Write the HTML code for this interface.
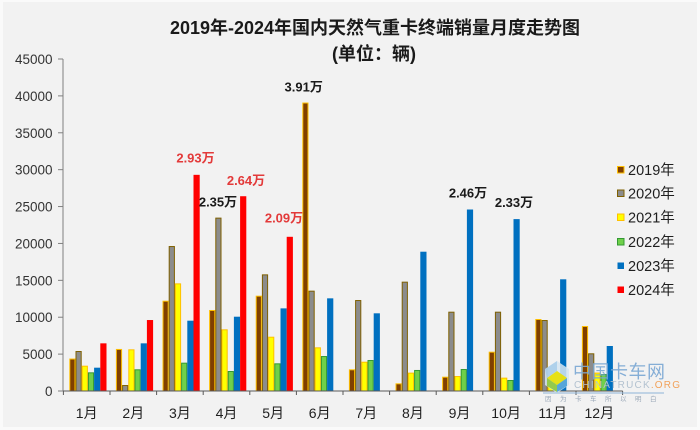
<!DOCTYPE html>
<html><head><meta charset="utf-8">
<style>
html,body{margin:0;padding:0;background:#f2f2f2;}
svg{display:block;}
text{font-family:"Liberation Sans","Noto Sans CJK SC",sans-serif;}
</style></head>
<body>
<svg width="700" height="430" viewBox="0 0 700 430" xmlns="http://www.w3.org/2000/svg">
<rect x="0" y="0" width="700" height="430" fill="#fafafa"/>
<rect x="3" y="2" width="694" height="425" fill="#f2f2f2"/>
<text x="375" y="34" text-anchor="middle" font-size="18" font-weight="bold" fill="#1a1a1a">2019年-2024年国内天然气重卡终端销量月度走势图</text>
<text x="374" y="60" text-anchor="middle" font-size="18" font-weight="bold" fill="#1a1a1a">(单位：辆)</text>
<g id="yaxis" font-size="13.5" fill="#333333" text-anchor="end">
<line x1="63" y1="59" x2="63" y2="391" stroke="#808080" stroke-width="1"/>
</g>
<g id="bars"></g>
<g id="labels" font-size="13" font-weight="bold" text-anchor="middle">
<text x="195.5" y="162.5" fill="#e33a3a">2.93万</text>
<text x="246" y="185" fill="#e33a3a">2.64万</text>
<text x="218" y="206.5" fill="#1a1a1a">2.35万</text>
<text x="284" y="222.5" fill="#e33a3a">2.09万</text>
<text x="303.7" y="91.5" fill="#1a1a1a">3.91万</text>
<text x="468" y="197.5" fill="#1a1a1a">2.46万</text>
<text x="514" y="207" fill="#1a1a1a">2.33万</text>
</g>
<g id="legend" font-size="14.5" fill="#1f1f1f">
<rect x="617.5" y="166.5" width="6.5" height="6.5" fill="#7f3f00" stroke="#ffc000" stroke-width="1"/><text x="628" y="175">2019年</text>
<rect x="617.5" y="190" width="6.5" height="6.5" fill="#8c8c8c" stroke="#7f6000" stroke-width="1"/><text x="628" y="198.5">2020年</text>
<rect x="617.5" y="214" width="6.5" height="6.5" fill="#ffff00" stroke="#ffc000" stroke-width="1"/><text x="628" y="222.5">2021年</text>
<rect x="617.5" y="238.5" width="6.5" height="6.5" fill="#6fd04a" stroke="#339933" stroke-width="1"/><text x="628" y="247">2022年</text>
<rect x="617.5" y="262.5" width="6.5" height="6.5" fill="#0070c0"/><text x="628" y="271">2023年</text>
<rect x="617.5" y="286.5" width="6.5" height="6.5" fill="#ff0000"/><text x="628" y="295">2024年</text>
</g>
<g id="xaxis" font-size="14" fill="#1f1f1f" text-anchor="middle"></g>
<g id="wm">
<polygon points="545,369 557,361 569,369 569,385 557,393 545,385" fill="#d6e6f2" opacity="0.85"/>
<polygon points="547,378 557,371 567,378 557,385" fill="#e8e000" opacity="0.9"/>
<polygon points="547,378 557,385 557,392 547,386" fill="#8cc63f" opacity="0.9"/>
<polygon points="557,385 567,378 567,386 557,392" fill="#4aa0d8" opacity="0.9"/>
<polygon points="545,369 557,361 557,371 547,378" fill="#9cc8e8" opacity="0.7"/>
<text x="573" y="378" font-size="18" fill="#7aa7d4" font-family="'Noto Serif CJK SC',serif" letter-spacing="0.5" opacity="0.9">中国卡车网</text>
<text x="574" y="388" font-size="10" fill="#b3c2d0" letter-spacing="1.2">CHINATRUCK<tspan fill="#f2a25a">.ORG</tspan></text>
<line x1="543" y1="393" x2="664" y2="393" stroke="#8fb4d8" stroke-width="1"/>
<text x="545" y="401" font-size="6.5" fill="#9aa8b8" letter-spacing="8.5">因为卡车所以明白</text>
</g>
</svg>
<script>
(function(){
var ns="http://www.w3.org/2000/svg";
function el(n,a,p,t){var e=document.createElementNS(ns,n);for(var k in a)e.setAttribute(k,a[k]);if(t)e.textContent=t;p.appendChild(e);return e;}
var Y0=391,S=332/45000;
var ya=document.getElementById('yaxis');
for(var v=0;v<=45000;v+=5000){var y=Y0-v*S;el('line',{x1:58,y1:y,x2:63,y2:y,stroke:'#808080','stroke-width':1},ya);el('text',{x:52.5,y:y+5},ya,String(v));}
var data=[
[4400,5700,12240,10980,12920,39100,2940,1040,1940,5330,9760,8810],
[5420,810,19650,23500,15810,13600,12330,14820,10750,10750,9620,5110],
[3430,5650,14590,8360,7360,5920,3970,2490,2030,1810,1500,2500],
[2530,2940,3840,2710,3750,4740,4200,2850,2980,1490,1100,2300],
[3160,6460,9530,10070,11200,12560,10530,18880,24600,23300,15140,6100],
[6460,9620,29300,26400,20900]
];
var fills=['#7f3f00','#8c8c8c','#ffff00','#6fd04a','#0070c0','#ff0000'];
var strokes=['#ffc000','#7f6000','#ffc000','#339933',null,null];
var bars=document.getElementById('bars');
var X0=63.4,CW=46.6,OFF=5.9,BW=6.2;
for(var s=0;s<6;s++){for(var i=0;i<data[s].length;i++){var v=data[s][i];var h=v*S;var x=X0+i*CW+OFF+s*BW;
var a={x:x+0.5,y:Y0-h+0.5,width:BW-1,height:h-0.5,fill:fills[s]};
if(strokes[s]){a.stroke=strokes[s];a['stroke-width']=1;}else{a.x=x;a.y=Y0-h;a.width=BW;a.height=h;}
el('rect',a,bars);}}
var xa=document.getElementById('xaxis');
el('line',{x1:63,y1:391,x2:622.7,y2:391,stroke:'#595959','stroke-width':1},xa);
for(var i=0;i<=12;i++){var x=X0+i*CW;el('line',{x1:x,y1:391,x2:x,y2:395,stroke:'#595959','stroke-width':1},xa);}
for(var i=0;i<12;i++){el('text',{x:X0+i*CW+CW/2,y:418},xa,(i+1)+'月');}
})();
</script>
</body></html>
